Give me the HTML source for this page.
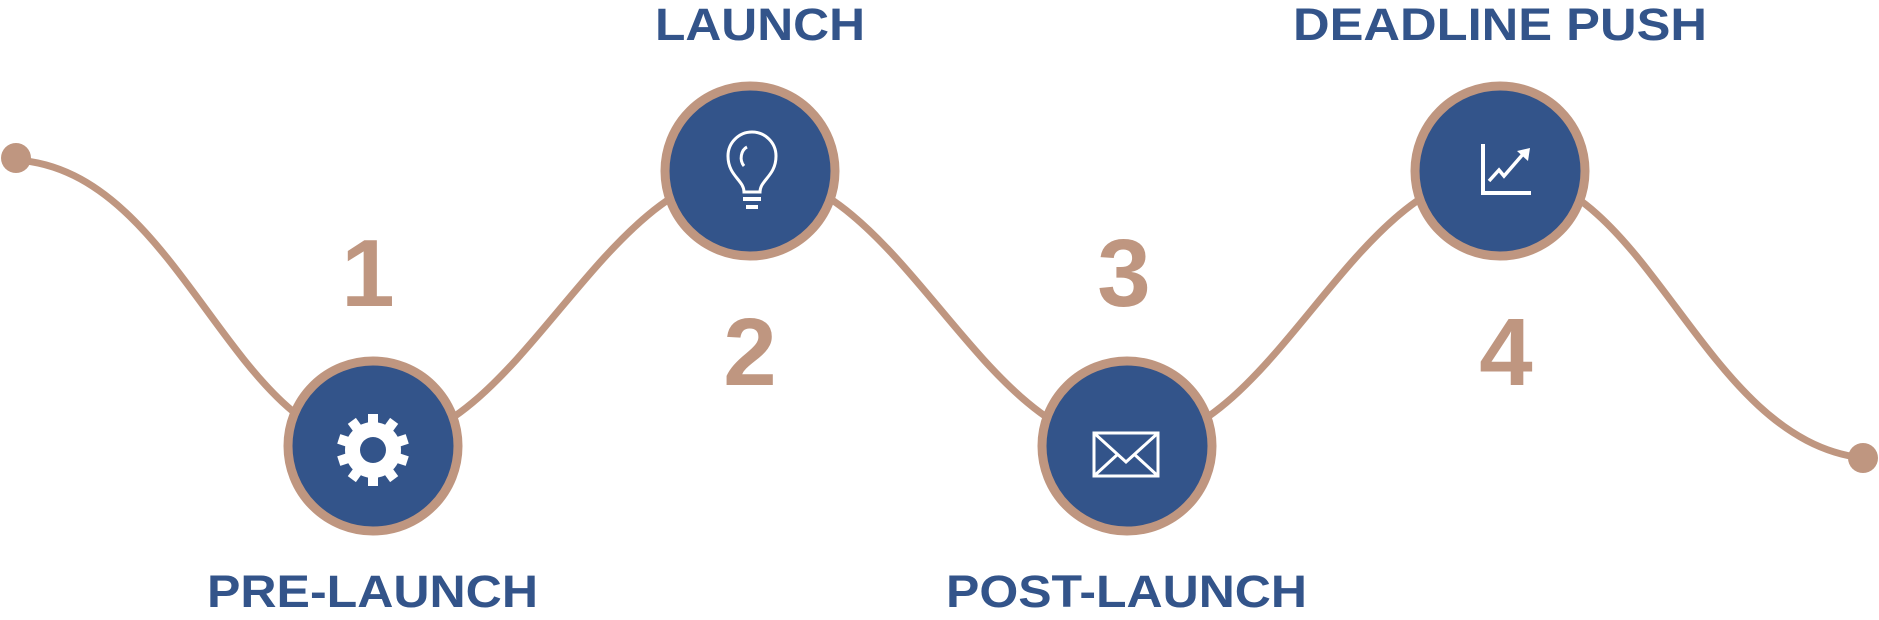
<!DOCTYPE html>
<html><head><meta charset="utf-8"><style>
html,body{margin:0;padding:0;background:#fff;width:1879px;height:620px;overflow:hidden}
svg{display:block}
.lb{font-family:"Liberation Sans",sans-serif;font-weight:bold;font-size:45px;fill:#33548a}
.nm{font-family:"Liberation Sans",sans-serif;font-weight:bold;font-size:96px;fill:#bf9680}
</style></head><body>
<svg width="1879" height="620" viewBox="0 0 1879 620" xmlns="http://www.w3.org/2000/svg">
<path d="M16,160 C180,170 230,440 373,445 C520,445 600,172 750,172 C900,172 980,445 1127,445 C1275,445 1350,172 1500,172 C1650,172 1700,440 1863,458" fill="none" stroke="#bf9680" stroke-width="7"/>
<circle cx="16" cy="158" r="15" fill="#bf9680"/>
<circle cx="1863" cy="458" r="15" fill="#bf9680"/>
<g fill="#33548a" stroke="#bf9680" stroke-width="9">
<circle cx="373" cy="446" r="85"/>
<circle cx="750" cy="171" r="85"/>
<circle cx="1127" cy="446" r="85"/>
<circle cx="1500" cy="171" r="85"/>
</g>
<!-- gear -->
<g transform="translate(373,450)" fill="#fff">
<g id="t"><rect x="-5" y="-36" width="10" height="14"/></g>
<use href="#t" transform="rotate(36)"/><use href="#t" transform="rotate(72)"/><use href="#t" transform="rotate(108)"/>
<use href="#t" transform="rotate(144)"/><use href="#t" transform="rotate(180)"/><use href="#t" transform="rotate(216)"/><use href="#t" transform="rotate(252)"/><use href="#t" transform="rotate(288)"/><use href="#t" transform="rotate(324)"/>
<circle r="28"/><circle r="13" fill="#33548a"/>
</g>
<!-- bulb -->
<g transform="translate(752,170)" fill="none" stroke="#fff" stroke-width="3">
<path d="M-8,22 C-8,10 -24,6 -24,-14 A24,24 0 0 1 24,-14 C24,6 8,10 8,22 Z"/>
<path d="M-8,-4 C-13,-10 -11,-20 -5,-23"/>
<line x1="-9" y1="29" x2="9" y2="29" stroke-width="4"/>
<line x1="-6" y1="37" x2="6" y2="37" stroke-width="4"/>
</g>
<!-- envelope -->
<g fill="none" stroke="#fff" stroke-width="3">
<rect x="1094" y="433" width="64" height="43"/>
<path d="M1094,433 L1126,462 L1158,433 M1094,476 L1118,454 M1158,476 L1134,454"/>
</g>
<!-- chart -->
<g fill="none" stroke="#fff" stroke-width="4">
<path d="M1483,144 L1483,193 L1531,193"/>
<path d="M1489,181 L1499,170 L1504,176 L1524,153" stroke-width="3.5"/>
</g>
<path d="M1517,151 L1530,148 L1528,161 Z" fill="#fff"/>
<text class="nm" x="368" y="306" text-anchor="middle">1</text>
<text class="nm" x="750" y="385" text-anchor="middle">2</text>
<text class="nm" x="1124" y="306" text-anchor="middle">3</text>
<text class="nm" x="1506" y="385" text-anchor="middle">4</text>
<text class="lb" x="655" y="40" textLength="210" lengthAdjust="spacingAndGlyphs">LAUNCH</text>
<text class="lb" x="1293" y="40" textLength="414" lengthAdjust="spacingAndGlyphs">DEADLINE PUSH</text>
<text class="lb" x="207" y="607" textLength="331" lengthAdjust="spacingAndGlyphs">PRE-LAUNCH</text>
<text class="lb" x="946" y="607" textLength="361" lengthAdjust="spacingAndGlyphs">POST-LAUNCH</text>
</svg>
</body></html>
